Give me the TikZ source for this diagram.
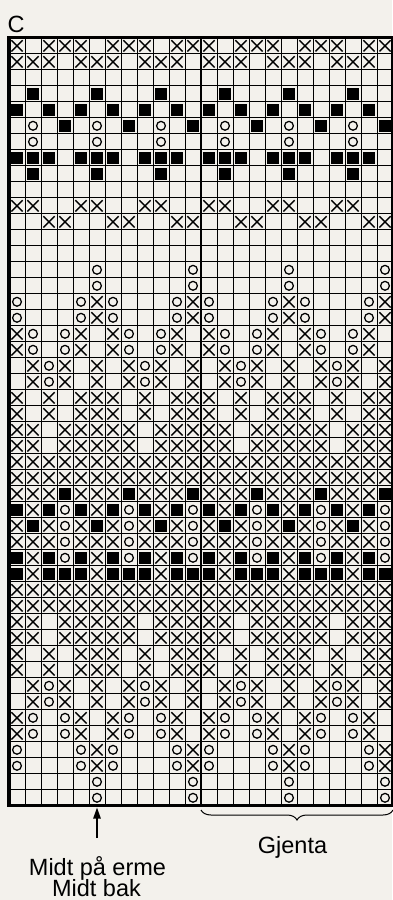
\documentclass[tikz,border=0pt]{standalone}
\usepackage{fontspec}
\setmainfont{Liberation Sans}
\usetikzlibrary{arrows.meta,decorations.pathreplacing}
\definecolor{bg}{HTML}{F3F1EC}
\def\symn{}
\def\symx{\draw[line width=1.35pt] (-5.6,-5.6) -- (5.6,5.6) (-5.6,5.6) -- (5.6,-5.6);}
\def\symo{\draw[line width=1.25pt] (0,0) circle (4.4pt);}
\def\symb{\fill (-5.9,-5.9) rectangle (5.9,5.9);}
\tikzset{
  thingrid/.style={line width=0.9pt},
  thickframe/.style={line width=3.2pt},
  midframe/.style={line width=2.8pt},
  lbl/.style={inner sep=0pt, font=\fontsize{23.5}{21.7}\selectfont},
}
\begin{document}
\begin{tikzpicture}[x=1pt,y=-1pt]
\fill[bg] (0,0) rectangle (392,900);
\useasboundingbox (0,0) rectangle (392,900);
% cell symbols
\foreach \row [count=\r from 0] in {
 {x,n,x,x,x,n,x,x,x,n,x,x},
 {x,x,x,n,x,x,x,n,x,x,x,n},
 {n,n,n,n,n,n,n,n,n,n,n,n},
 {n,b,n,n,n,b,n,n,n,b,n,n},
 {b,n,b,n,b,n,b,n,b,n,b,n},
 {n,o,n,b,n,o,n,b,n,o,n,b},
 {n,o,n,n,n,o,n,n,n,o,n,n},
 {b,b,b,n,b,b,b,n,b,b,b,n},
 {n,b,n,n,n,b,n,n,n,b,n,n},
 {n,n,n,n,n,n,n,n,n,n,n,n},
 {x,x,n,n,x,x,n,n,x,x,n,n},
 {n,n,x,x,n,n,x,x,n,n,x,x},
 {n,n,n,n,n,n,n,n,n,n,n,n},
 {n,n,n,n,n,n,n,n,n,n,n,n},
 {n,n,n,n,n,o,n,n,n,n,n,o},
 {n,n,n,n,n,o,n,n,n,n,n,o},
 {o,n,n,n,o,x,o,n,n,n,o,x},
 {o,n,n,n,o,x,o,n,n,n,o,x},
 {x,o,n,o,x,n,x,o,n,o,x,n},
 {x,o,n,o,x,n,x,o,n,o,x,n},
 {n,x,o,x,n,x,n,x,o,x,n,x},
 {n,x,o,x,n,x,n,x,o,x,n,x},
 {x,n,x,n,x,x,x,n,x,n,x,x},
 {x,n,x,n,x,x,x,n,x,n,x,x},
 {x,x,n,x,x,x,x,x,n,x,x,x},
 {x,x,n,x,x,x,x,x,n,x,x,x},
 {x,x,x,x,x,x,x,x,x,x,x,x},
 {x,x,x,x,x,x,x,x,x,x,x,x},
 {x,x,x,b,x,x,x,b,x,x,x,b},
 {b,x,b,o,b,x,b,o,b,x,b,o},
 {x,b,x,o,x,b,x,o,x,b,x,o},
 {x,x,x,o,x,x,x,o,x,x,x,o},
 {b,x,b,o,b,x,b,o,b,x,b,o},
 {b,x,b,b,b,x,b,b,b,x,b,b},
 {x,x,x,x,x,x,x,x,x,x,x,x},
 {x,x,x,x,x,x,x,x,x,x,x,x},
 {x,x,n,x,x,x,x,x,n,x,x,x},
 {x,x,n,x,x,x,x,x,n,x,x,x},
 {x,n,x,n,x,x,x,n,x,n,x,x},
 {x,n,x,n,x,x,x,n,x,n,x,x},
 {n,x,o,x,n,x,n,x,o,x,n,x},
 {n,x,o,x,n,x,n,x,o,x,n,x},
 {x,o,n,o,x,n,x,o,n,o,x,n},
 {x,o,n,o,x,n,x,o,n,o,x,n},
 {o,n,n,n,o,x,o,n,n,n,o,x},
 {o,n,n,n,o,x,o,n,n,n,o,x},
 {n,n,n,n,n,o,n,n,n,n,n,o},
 {n,n,n,n,n,o,n,n,n,n,n,o}}
{
  \foreach \c [count=\k from 0] in \row {
    \foreach \h in {0,1} {
      \begin{scope}[shift={({17+16*(\k+12*\h)},{45.8+16*\r})}]
        \csname sym\c\endcsname
      \end{scope}
    }
  }
}
% grid lines
\foreach \i in {0,...,24} \draw[thingrid] ({9+16*\i},37.8) -- ++(0,768);
\foreach \j in {0,...,48} \draw[thingrid] (9,{37.8+16*\j}) -- ++(384,0);
% thick frame
\draw[thickframe] (9,37.8) rectangle (393,805.8);
\draw[midframe] (201,37.8) -- (201,805.8);
% labels
\node[lbl, anchor=base west] (chartC) at (7.5,32) {C};
\coordinate (gridbot) at (97,807.6);
\coordinate (arrbase) at (97,838);
\draw[line width=1.3pt, -{Triangle[length=11pt,width=7.5pt]}] (arrbase) -- (gridbot);
\node[lbl, anchor=base] (midt1) at (97.5,875) {Midt på erme};
\node[lbl, anchor=base] (midt2) at (96.5,896.5) {Midt bak};
\coordinate (brL) at (201,810);
\coordinate (brR) at (393,810);
\draw[line width=1pt, decorate, decoration={brace, mirror, amplitude=10pt}] (brL) -- (brR);
\node[lbl, anchor=base] (gjenta) at (292.5,853.3) {Gjenta};
\end{tikzpicture}
\end{document}
